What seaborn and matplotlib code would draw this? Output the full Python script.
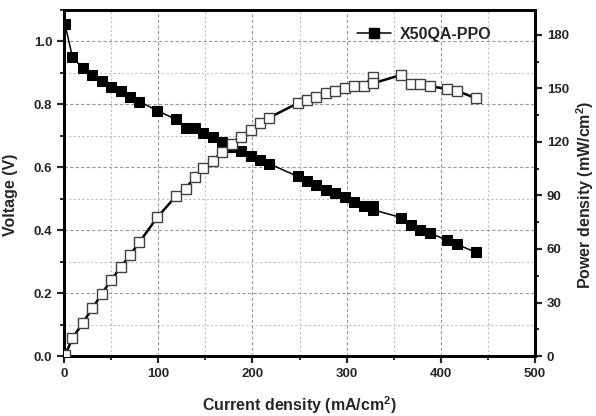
import matplotlib
matplotlib.use("Agg")
import matplotlib.pyplot as plt
from matplotlib.ticker import MultipleLocator, FormatStrFormatter
from matplotlib.lines import Line2D
import seaborn as sns
import pandas as pd

# Current density (mA/cm^2)
current = [1, 9, 20, 30, 40, 50, 60, 70, 80, 99, 119, 129, 139, 148, 158, 168,
           178, 188, 198, 208, 218, 248, 258, 268, 278, 288, 298, 308, 318,
           328, 328, 358, 368, 378, 388, 407, 417, 437]
# Voltage (V)
voltage = [1.056, 0.949, 0.915, 0.894, 0.873, 0.856, 0.841, 0.824, 0.809, 0.780,
           0.752, 0.724, 0.724, 0.709, 0.695, 0.680, 0.665, 0.652, 0.637, 0.623,
           0.611, 0.571, 0.557, 0.544, 0.529, 0.517, 0.505, 0.490, 0.478,
           0.477, 0.465, 0.440, 0.415, 0.402, 0.391, 0.368, 0.355, 0.330]
# Power density (mW/cm^2)
power = [0.4, 9.9, 18.7, 26.7, 34.8, 42.6, 49.7, 56.6, 63.8, 77.8,
         89.7, 93.7, 100.6, 105.6, 109.5, 114.6, 118.7, 123.0, 126.8, 130.5,
         133.7, 141.7, 143.6, 145.4, 147.3, 148.8, 150.5, 151.4, 151.4,
         156.6, 152.9, 157.6, 152.4, 152.4, 151.4, 149.6, 148.8, 144.5]

series_label = "X50QA-PPO"

df = pd.DataFrame({"current": current, "voltage": voltage, "power": power})

sns.set_style("ticks")
plt.rcParams["font.family"] = ["Liberation Sans", "DejaVu Sans"]
plt.rcParams["font.weight"] = "bold"
plt.rcParams["mathtext.fontset"] = "custom"
plt.rcParams["mathtext.rm"] = "Liberation Sans:bold"
plt.rcParams["mathtext.bf"] = "Liberation Sans:bold"
plt.rcParams["mathtext.it"] = "Liberation Sans:bold"
plt.rcParams["mathtext.default"] = "bf"

fig = plt.figure(figsize=(5.96, 4.16), dpi=100)
ax = fig.add_axes([0.1074, 0.1442, 0.7903, 0.8318])
ax2 = ax.twinx()

# grid
ax.set_axisbelow(True)
ax.xaxis.set_major_locator(MultipleLocator(100))
ax.xaxis.set_minor_locator(MultipleLocator(50))
ax.yaxis.set_major_locator(MultipleLocator(0.2))
ax.yaxis.set_minor_locator(MultipleLocator(0.1))
ax.grid(which="major", linestyle=(0, (3, 2)), color="0.6", linewidth=0.8)
ax.grid(which="minor", linestyle=(0, (2, 2)), color="0.75", linewidth=0.8)

sns.lineplot(data=df, x="current", y="voltage", ax=ax, estimator=None, sort=False,
             color="black", linewidth=1.1, marker="s", markersize=7,
             markerfacecolor="black", markeredgecolor="black", zorder=3)
sns.lineplot(data=df, x="current", y="power", ax=ax2, estimator=None, sort=False,
             color="black", linewidth=1.8, marker="s", markersize=7,
             markerfacecolor="white", markeredgecolor="0.25",
             markeredgewidth=1.0, zorder=3)

ax.set_xlim(0, 500)
ax.set_ylim(0, 1.1)
ax2.set_ylim(0, 194)
ax2.yaxis.set_major_locator(MultipleLocator(30))
ax2.yaxis.set_minor_locator(MultipleLocator(15))
ax.yaxis.set_major_formatter(FormatStrFormatter("%.1f"))

ax.set_xlabel("Current density (mA/cm$^2$)", fontsize=11.5, fontweight="bold")
ax.set_ylabel("Voltage (V)", fontsize=11.5, fontweight="bold")
ax2.set_ylabel("Power density (mW/cm$^2$)", fontsize=11.5, fontweight="bold",
               rotation=90)
ax.xaxis.set_label_coords(0.50, -0.11)
ax.yaxis.set_label_coords(-0.097, 0.465)
ax2.yaxis.set_label_coords(1.084, 0.465)

for a in (ax, ax2):
    for s in a.spines.values():
        s.set_linewidth(2.0)
        s.set_color("black")
    a.tick_params(which="major", length=5, width=1.6, labelsize=9.5, direction="out")
    a.tick_params(which="minor", length=3, width=1.4, direction="out")
    for lab in a.get_xticklabels() + a.get_yticklabels():
        lab.set_fontweight("bold")
ax.tick_params(axis="x", which="both", top=False)
ax2.tick_params(axis="x", which="both", top=False)

handle = Line2D([], [], color="black", linewidth=1.1, marker="s", markersize=7,
                markerfacecolor="black", markeredgecolor="black")
for a in (ax, ax2):
    if a.get_legend() is not None:
        a.get_legend().remove()
ax2.legend([handle], [series_label], loc="center left", frameon=False,
           prop={"weight": "bold", "size": 11.5}, handlelength=2.1,
           handletextpad=0.6, borderaxespad=0, borderpad=0,
           bbox_to_anchor=(0.622, 0.929))

fig.savefig("out.png", dpi=100)
